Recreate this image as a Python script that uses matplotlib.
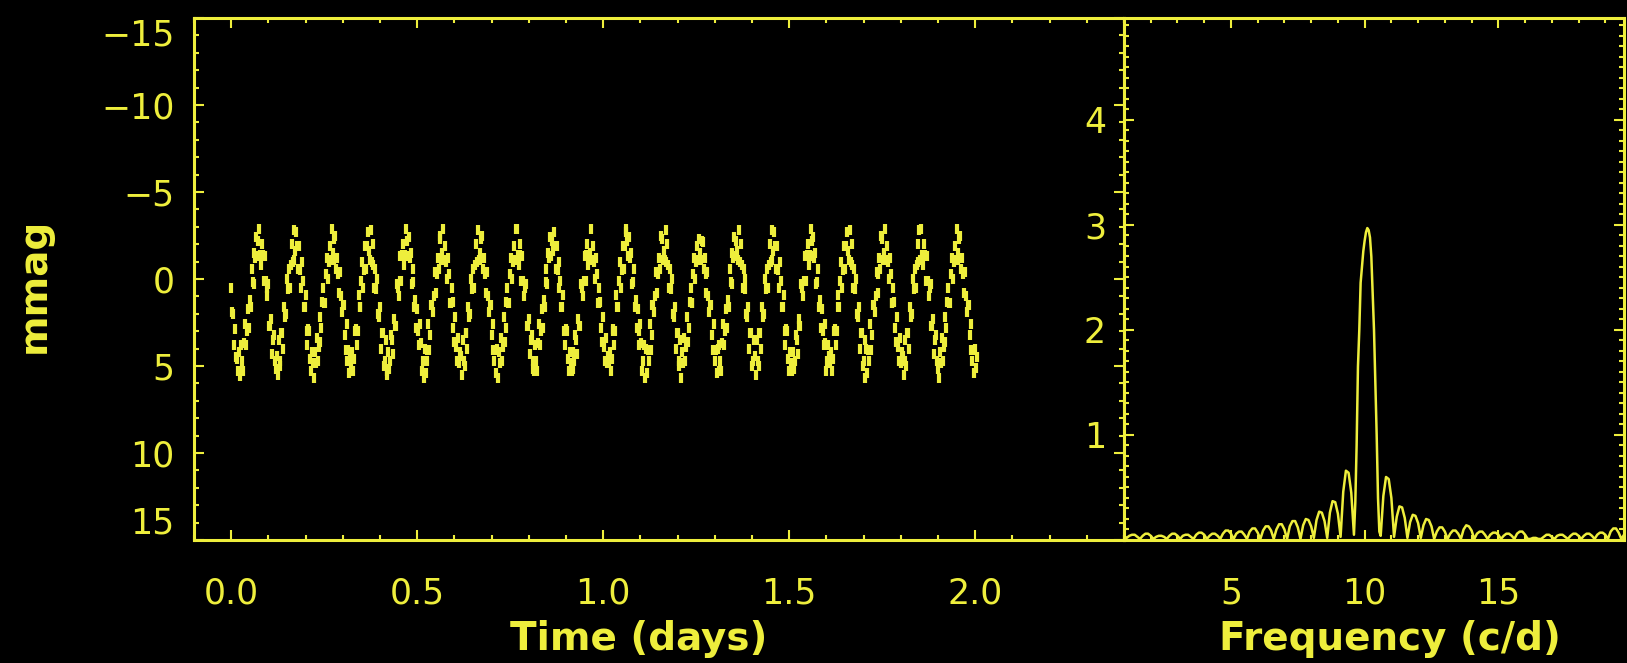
import matplotlib
matplotlib.use("Agg")
import matplotlib.pyplot as plt
from matplotlib.ticker import MultipleLocator

YELLOW = "#eeee3c"

# Light curve (time in days, brightness in mmag)
time_days = [
    0.0000, 0.0025, 0.0050, 0.0075, 0.0100, 0.0125, 0.0150, 0.0175, 0.0200, 0.0225,
    0.0250, 0.0275, 0.0300, 0.0325, 0.0350, 0.0375, 0.0400, 0.0425, 0.0450, 0.0475,
    0.0500, 0.0525, 0.0550, 0.0575, 0.0600, 0.0625, 0.0650, 0.0675, 0.0700, 0.0725,
    0.0750, 0.0775, 0.0800, 0.0825, 0.0850, 0.0875, 0.0900, 0.0925, 0.0950, 0.0975,
    0.1000, 0.1025, 0.1050, 0.1075, 0.1100, 0.1125, 0.1150, 0.1175, 0.1200, 0.1225,
    0.1250, 0.1275, 0.1300, 0.1325, 0.1350, 0.1375, 0.1400, 0.1425, 0.1450, 0.1475,
    0.1500, 0.1525, 0.1550, 0.1575, 0.1600, 0.1625, 0.1650, 0.1675, 0.1700, 0.1725,
    0.1750, 0.1775, 0.1800, 0.1825, 0.1850, 0.1875, 0.1900, 0.1925, 0.1950, 0.1975,
    0.2000, 0.2025, 0.2050, 0.2075, 0.2100, 0.2125, 0.2150, 0.2175, 0.2200, 0.2225,
    0.2250, 0.2275, 0.2300, 0.2325, 0.2350, 0.2375, 0.2400, 0.2425, 0.2450, 0.2475,
    0.2500, 0.2525, 0.2550, 0.2575, 0.2600, 0.2625, 0.2650, 0.2675, 0.2700, 0.2725,
    0.2750, 0.2775, 0.2800, 0.2825, 0.2850, 0.2875, 0.2900, 0.2925, 0.2950, 0.2975,
    0.3000, 0.3025, 0.3050, 0.3075, 0.3100, 0.3125, 0.3150, 0.3175, 0.3200, 0.3225,
    0.3250, 0.3275, 0.3300, 0.3325, 0.3350, 0.3375, 0.3400, 0.3425, 0.3450, 0.3475,
    0.3500, 0.3525, 0.3550, 0.3575, 0.3600, 0.3625, 0.3650, 0.3675, 0.3700, 0.3725,
    0.3750, 0.3775, 0.3800, 0.3825, 0.3850, 0.3875, 0.3900, 0.3925, 0.3950, 0.3975,
    0.4000, 0.4025, 0.4050, 0.4075, 0.4100, 0.4125, 0.4150, 0.4175, 0.4200, 0.4225,
    0.4250, 0.4275, 0.4300, 0.4325, 0.4350, 0.4375, 0.4400, 0.4425, 0.4450, 0.4475,
    0.4500, 0.4525, 0.4550, 0.4575, 0.4600, 0.4625, 0.4650, 0.4675, 0.4700, 0.4725,
    0.4750, 0.4775, 0.4800, 0.4825, 0.4850, 0.4875, 0.4900, 0.4925, 0.4950, 0.4975,
    0.5000, 0.5025, 0.5050, 0.5075, 0.5100, 0.5125, 0.5150, 0.5175, 0.5200, 0.5225,
    0.5250, 0.5275, 0.5300, 0.5325, 0.5350, 0.5375, 0.5400, 0.5425, 0.5450, 0.5475,
    0.5500, 0.5525, 0.5550, 0.5575, 0.5600, 0.5625, 0.5650, 0.5675, 0.5700, 0.5725,
    0.5750, 0.5775, 0.5800, 0.5825, 0.5850, 0.5875, 0.5900, 0.5925, 0.5950, 0.5975,
    0.6000, 0.6025, 0.6050, 0.6075, 0.6100, 0.6125, 0.6150, 0.6175, 0.6200, 0.6225,
    0.6250, 0.6275, 0.6300, 0.6325, 0.6350, 0.6375, 0.6400, 0.6425, 0.6450, 0.6475,
    0.6500, 0.6525, 0.6550, 0.6575, 0.6600, 0.6625, 0.6650, 0.6675, 0.6700, 0.6725,
    0.6750, 0.6775, 0.6800, 0.6825, 0.6850, 0.6875, 0.6900, 0.6925, 0.6950, 0.6975,
    0.7000, 0.7025, 0.7050, 0.7075, 0.7100, 0.7125, 0.7150, 0.7175, 0.7200, 0.7225,
    0.7250, 0.7275, 0.7300, 0.7325, 0.7350, 0.7375, 0.7400, 0.7425, 0.7450, 0.7475,
    0.7500, 0.7525, 0.7550, 0.7575, 0.7600, 0.7625, 0.7650, 0.7675, 0.7700, 0.7725,
    0.7750, 0.7775, 0.7800, 0.7825, 0.7850, 0.7875, 0.7900, 0.7925, 0.7950, 0.7975,
    0.8000, 0.8025, 0.8050, 0.8075, 0.8100, 0.8125, 0.8150, 0.8175, 0.8200, 0.8225,
    0.8250, 0.8275, 0.8300, 0.8325, 0.8350, 0.8375, 0.8400, 0.8425, 0.8450, 0.8475,
    0.8500, 0.8525, 0.8550, 0.8575, 0.8600, 0.8625, 0.8650, 0.8675, 0.8700, 0.8725,
    0.8750, 0.8775, 0.8800, 0.8825, 0.8850, 0.8875, 0.8900, 0.8925, 0.8950, 0.8975,
    0.9000, 0.9025, 0.9050, 0.9075, 0.9100, 0.9125, 0.9150, 0.9175, 0.9200, 0.9225,
    0.9250, 0.9275, 0.9300, 0.9325, 0.9350, 0.9375, 0.9400, 0.9425, 0.9450, 0.9475,
    0.9500, 0.9525, 0.9550, 0.9575, 0.9600, 0.9625, 0.9650, 0.9675, 0.9700, 0.9725,
    0.9750, 0.9775, 0.9800, 0.9825, 0.9850, 0.9875, 0.9900, 0.9925, 0.9950, 0.9975,
    1.0000, 1.0025, 1.0050, 1.0075, 1.0100, 1.0125, 1.0150, 1.0175, 1.0200, 1.0225,
    1.0250, 1.0275, 1.0300, 1.0325, 1.0350, 1.0375, 1.0400, 1.0425, 1.0450, 1.0475,
    1.0500, 1.0525, 1.0550, 1.0575, 1.0600, 1.0625, 1.0650, 1.0675, 1.0700, 1.0725,
    1.0750, 1.0775, 1.0800, 1.0825, 1.0850, 1.0875, 1.0900, 1.0925, 1.0950, 1.0975,
    1.1000, 1.1025, 1.1050, 1.1075, 1.1100, 1.1125, 1.1150, 1.1175, 1.1200, 1.1225,
    1.1250, 1.1275, 1.1300, 1.1325, 1.1350, 1.1375, 1.1400, 1.1425, 1.1450, 1.1475,
    1.1500, 1.1525, 1.1550, 1.1575, 1.1600, 1.1625, 1.1650, 1.1675, 1.1700, 1.1725,
    1.1750, 1.1775, 1.1800, 1.1825, 1.1850, 1.1875, 1.1900, 1.1925, 1.1950, 1.1975,
    1.2000, 1.2025, 1.2050, 1.2075, 1.2100, 1.2125, 1.2150, 1.2175, 1.2200, 1.2225,
    1.2250, 1.2275, 1.2300, 1.2325, 1.2350, 1.2375, 1.2400, 1.2425, 1.2450, 1.2475,
    1.2500, 1.2525, 1.2550, 1.2575, 1.2600, 1.2625, 1.2650, 1.2675, 1.2700, 1.2725,
    1.2750, 1.2775, 1.2800, 1.2825, 1.2850, 1.2875, 1.2900, 1.2925, 1.2950, 1.2975,
    1.3000, 1.3025, 1.3050, 1.3075, 1.3100, 1.3125, 1.3150, 1.3175, 1.3200, 1.3225,
    1.3250, 1.3275, 1.3300, 1.3325, 1.3350, 1.3375, 1.3400, 1.3425, 1.3450, 1.3475,
    1.3500, 1.3525, 1.3550, 1.3575, 1.3600, 1.3625, 1.3650, 1.3675, 1.3700, 1.3725,
    1.3750, 1.3775, 1.3800, 1.3825, 1.3850, 1.3875, 1.3900, 1.3925, 1.3950, 1.3975,
    1.4000, 1.4025, 1.4050, 1.4075, 1.4100, 1.4125, 1.4150, 1.4175, 1.4200, 1.4225,
    1.4250, 1.4275, 1.4300, 1.4325, 1.4350, 1.4375, 1.4400, 1.4425, 1.4450, 1.4475,
    1.4500, 1.4525, 1.4550, 1.4575, 1.4600, 1.4625, 1.4650, 1.4675, 1.4700, 1.4725,
    1.4750, 1.4775, 1.4800, 1.4825, 1.4850, 1.4875, 1.4900, 1.4925, 1.4950, 1.4975,
    1.5000, 1.5025, 1.5050, 1.5075, 1.5100, 1.5125, 1.5150, 1.5175, 1.5200, 1.5225,
    1.5250, 1.5275, 1.5300, 1.5325, 1.5350, 1.5375, 1.5400, 1.5425, 1.5450, 1.5475,
    1.5500, 1.5525, 1.5550, 1.5575, 1.5600, 1.5625, 1.5650, 1.5675, 1.5700, 1.5725,
    1.5750, 1.5775, 1.5800, 1.5825, 1.5850, 1.5875, 1.5900, 1.5925, 1.5950, 1.5975,
    1.6000, 1.6025, 1.6050, 1.6075, 1.6100, 1.6125, 1.6150, 1.6175, 1.6200, 1.6225,
    1.6250, 1.6275, 1.6300, 1.6325, 1.6350, 1.6375, 1.6400, 1.6425, 1.6450, 1.6475,
    1.6500, 1.6525, 1.6550, 1.6575, 1.6600, 1.6625, 1.6650, 1.6675, 1.6700, 1.6725,
    1.6750, 1.6775, 1.6800, 1.6825, 1.6850, 1.6875, 1.6900, 1.6925, 1.6950, 1.6975,
    1.7000, 1.7025, 1.7050, 1.7075, 1.7100, 1.7125, 1.7150, 1.7175, 1.7200, 1.7225,
    1.7250, 1.7275, 1.7300, 1.7325, 1.7350, 1.7375, 1.7400, 1.7425, 1.7450, 1.7475,
    1.7500, 1.7525, 1.7550, 1.7575, 1.7600, 1.7625, 1.7650, 1.7675, 1.7700, 1.7725,
    1.7750, 1.7775, 1.7800, 1.7825, 1.7850, 1.7875, 1.7900, 1.7925, 1.7950, 1.7975,
    1.8000, 1.8025, 1.8050, 1.8075, 1.8100, 1.8125, 1.8150, 1.8175, 1.8200, 1.8225,
    1.8250, 1.8275, 1.8300, 1.8325, 1.8350, 1.8375, 1.8400, 1.8425, 1.8450, 1.8475,
    1.8500, 1.8525, 1.8550, 1.8575, 1.8600, 1.8625, 1.8650, 1.8675, 1.8700, 1.8725,
    1.8750, 1.8775, 1.8800, 1.8825, 1.8850, 1.8875, 1.8900, 1.8925, 1.8950, 1.8975,
    1.9000, 1.9025, 1.9050, 1.9075, 1.9100, 1.9125, 1.9150, 1.9175, 1.9200, 1.9225,
    1.9250, 1.9275, 1.9300, 1.9325, 1.9350, 1.9375, 1.9400, 1.9425, 1.9450, 1.9475,
    1.9500, 1.9525, 1.9550, 1.9575, 1.9600, 1.9625, 1.9650, 1.9675, 1.9700, 1.9725,
    1.9750, 1.9775, 1.9800, 1.9825, 1.9850, 1.9875, 1.9900, 1.9925, 1.9950, 1.9975,
    2.0000, 2.0025, 2.0050,
]

mmag = [
    0.5, 1.9, 2.0, 3.8, 2.9, 4.5, 4.6, 5.3, 4.2, 5.6,
    5.3, 3.8, 4.7, 5.3, 3.7, 2.6, 3.8, 3.0, 1.7, 2.8,
    1.2, 1.6, -0.6, 0.2, 0.3, -1.5, -1.2, -2.4, -1.3, -2.2,
    -2.9, -1.4, -0.8, -2.0, -1.4, 0.1, -1.3, 0.1, 1.0, 0.5,
    0.3, 2.7, 2.7, 2.3, 4.3, 3.5, 3.2, 4.7, 5.2,
    4.4, 5.5, 3.5, 4.7, 5.0, 3.1, 3.1, 4.0, 1.6, 2.2,
    2.0, 0.0, 0.6, -0.6, 0.5, -0.8, -2.0, -1.0, -2.8, -1.1,
    -1.6, -2.7, -1.9, -0.6, -1.9, -0.5, 0.5, -1.0, 0.1, 1.6,
    1.6, 0.9, 3.0, 3.8, 2.9, 3.0, 4.6, 5.3, 4.2, 4.8,
    5.7, 4.2, 4.8, 3.4, 4.7, 3.9, 2.2, 3.6, 2.8, 1.3,
    0.5, 1.4, 1.4, -0.3, -1.2, 0.0, -1.0, -1.9, -1.1, -2.9,
    -1.5, -1.1, -2.3, -2.5, -0.6, -1.2, -0.3, 0.8, -0.4, 1.0,
    1.9, 1.5, 1.5, 3.2, 4.1, 2.6, 4.7, 4.1, 5.4,
    4.4, 4.8, 4.2, 5.3, 4.6, 3.0, 2.9, 3.8, 3.0, 0.9,
    1.6, 1.6, 0.1, -1.0, 0.5, -0.5, -1.9, -0.6, -1.9, -2.7,
    -1.6, -1.1, -2.8, -1.0, -2.0, -0.8, 0.5, -0.6, 0.6, 0.0,
    2.0, 2.2, 1.6, 4.0, 3.1, 3.1, 5.0, 4.7, 3.5, 5.5,
    5.3, 4.2, 5.2, 4.7, 3.2, 3.5, 4.3, 2.3, 2.7, 2.7,
    0.3, 0.5, 1.0, 0.1, -1.3, 0.1, -1.4, -2.0, -0.8, -1.4,
    -2.9, -2.2, -1.3, -2.4, -1.2, -1.5, 0.3, 0.2, -0.6, 1.6,
    1.2, 2.8, 1.7, 3.0, 3.8, 2.6, 3.7, 5.3, 4.7,
    5.7, 4.0, 5.4, 4.1, 4.7, 2.6, 4.1, 3.2, 1.5, 1.5,
    1.9, 1.0, -0.4, 0.8, -0.3, -1.2, -0.6, -2.5, -2.3, -1.1,
    -1.5, -2.9, -1.1, -1.9, -1.0, 0.0, -1.2, -0.3, 1.4, 1.4,
    0.5, 1.3, 2.8, 3.6, 2.2, 3.9, 4.7, 3.4, 4.8, 4.2,
    4.4, 5.5, 3.5, 4.7, 5.0, 3.1, 3.1, 4.0, 1.6, 2.2,
    2.0, 0.0, 0.6, -0.6, 0.5, -0.8, -2.0, -1.0, -2.8, -1.1,
    -1.5, -1.1, -2.3, -2.5, -0.6, -1.2, -0.3, 0.8, -0.4, 1.0,
    1.9, 1.5, 1.5, 3.2, 4.1, 2.6, 4.7, 4.1, 5.4, 4.0,
    5.7, 4.2, 4.8, 3.4, 4.7, 3.9, 2.2, 3.6, 2.8, 1.3,
    0.5, 1.4, 1.4, -0.3, -1.2, 0.0, -1.0, -1.9, -1.1, -2.9,
    -2.9, -1.4, -0.8, -2.0, -1.4, 0.1, -1.3, 0.1, 1.0, 0.5,
    0.3, 2.7, 2.7, 2.3, 4.3, 3.5, 3.2, 4.7, 5.2,
    5.3, 3.8, 4.7, 5.3, 3.7, 2.6, 3.8, 3.0, 1.7, 2.8,
    1.2, 1.6, -0.6, 0.2, 0.3, -1.5, -1.2, -2.4, -1.3, -2.2,
    -1.6, -2.7, -1.9, -0.6, -1.9, -0.5, 0.5, -1.0, 0.1, 1.6,
    1.6, 0.9, 3.0, 3.8, 2.9, 3.0, 4.6, 5.3, 4.2, 4.8,
    5.3, 4.2, 5.2, 4.7, 3.2, 3.5, 4.3, 2.3, 2.7, 2.7,
    0.3, 0.5, 1.0, 0.1, -1.3, 0.1, -1.4, -2.0, -0.8, -1.4,
    -1.5, -2.9, -1.1, -1.9, -1.0, 0.0, -1.2, -0.3, 1.4, 1.4,
    0.5, 1.3, 2.8, 3.6, 2.2, 3.9, 4.7, 3.4, 4.8,
    4.4, 4.8, 4.2, 5.3, 4.6, 3.0, 2.9, 3.8, 3.0, 0.9,
    1.6, 1.6, 0.1, -1.0, 0.5, -0.5, -1.9, -0.6, -1.9, -2.7,
    -2.9, -2.2, -1.3, -2.4, -1.2, -1.5, 0.3, 0.2, -0.6, 1.6,
    1.2, 2.8, 1.7, 3.0, 3.8, 2.6, 3.7, 5.3, 4.7, 3.8,
    5.7, 4.0, 5.4, 4.1, 4.7, 2.6, 4.1, 3.2, 1.5, 1.5,
    1.9, 1.0, -0.4, 0.8, -0.3, -1.2, -0.6, -2.5, -2.3, -1.1,
    -1.6, -1.1, -2.8, -1.0, -2.0, -0.8, 0.5, -0.6, 0.6, 0.0,
    2.0, 2.2, 1.6, 4.0, 3.1, 3.1, 5.0, 4.7, 3.5,
    5.7, 4.2, 4.8, 3.4, 4.7, 3.9, 2.2, 3.6, 2.8, 1.3,
    0.5, 1.4, 1.4, -0.3, -1.2, 0.0, -1.0, -1.9, -1.1, -2.3,
    -1.5, -1.1, -2.2, -2.1, -0.6, -1.2, -0.3, 0.8, -0.4, 1.0,
    1.9, 1.5, 1.5, 3.2, 4.1, 2.6, 4.7, 4.1, 5.4, 4.0,
    5.3, 3.8, 4.7, 5.3, 3.7, 2.6, 3.8, 3.0, 1.7, 2.8,
    1.2, 1.6, -0.6, 0.2, 0.3, -1.5, -1.2, -2.4, -1.3, -2.2,
    -1.6, -1.1, -2.8, -1.0, -2.0, -0.8, 0.5, -0.6, 0.6, 0.0,
    2.0, 2.2, 1.6, 4.0, 3.1, 3.1, 5.0, 4.7, 3.5,
    4.4, 5.5, 3.5, 4.7, 5.0, 3.1, 3.1, 4.0, 1.6, 2.2,
    2.0, 0.0, 0.6, -0.6, 0.5, -0.8, -2.0, -1.0, -2.8, -1.1,
    -1.6, -2.7, -1.9, -0.6, -1.9, -0.5, 0.5, -1.0, 0.1, 1.6,
    1.6, 0.9, 3.0, 3.8, 2.9, 3.0, 4.6, 5.3, 4.2, 4.8,
    5.3, 4.2, 5.2, 4.7, 3.2, 3.5, 4.3, 2.3, 2.7, 2.7,
    0.3, 0.5, 1.0, 0.1, -1.3, 0.1, -1.4, -2.0, -0.8, -1.4,
    -2.9, -2.2, -1.3, -2.4, -1.2, -1.5, 0.3, 0.2, -0.6, 1.6,
    1.2, 2.8, 1.7, 3.0, 3.8, 2.6, 3.7, 5.3, 4.7, 3.8,
    4.4, 4.8, 4.2, 5.3, 4.6, 3.0, 2.9, 3.8, 3.0, 0.9,
    1.6, 1.6, 0.1, -1.0, 0.5, -0.5, -1.9, -0.6, -1.9, -2.7,
    -1.6, -1.1, -2.8, -1.0, -2.0, -0.8, 0.5, -0.6, 0.6, 0.0,
    2.0, 2.2, 1.6, 4.0, 3.1, 3.1, 5.0, 4.7, 3.5,
    5.7, 4.0, 5.4, 4.1, 4.7, 2.6, 4.1, 3.2, 1.5, 1.5,
    1.9, 1.0, -0.4, 0.8, -0.3, -1.2, -0.6, -2.5, -2.3, -1.1,
    -1.5, -2.9, -1.1, -1.9, -1.0, 0.0, -1.2, -0.3, 1.4, 1.4,
    0.5, 1.3, 2.8, 3.6, 2.2, 3.9, 4.7, 3.4, 4.8, 4.2,
    4.4, 5.5, 3.5, 4.7, 5.0, 3.1, 3.1, 4.0, 1.6, 2.2,
    2.0, 0.0, 0.6, -0.6, 0.5, -0.8, -2.0, -1.0, -2.8, -1.1,
    -2.9, -1.4, -0.8, -2.0, -1.4, 0.1, -1.3, 0.1, 1.0, 0.5,
    0.3, 2.7, 2.7, 2.3, 4.3, 3.5, 3.2, 4.7, 5.2,
    5.7, 4.2, 4.8, 3.4, 4.7, 3.9, 2.2, 3.6, 2.8, 1.3,
    0.5, 1.4, 1.4, -0.3, -1.2, 0.0, -1.0, -1.9, -1.1, -2.9,
    -1.5, -1.1, -2.3, -2.5, -0.6, -1.2, -0.3, 0.8, -0.4, 1.0,
    1.9, 1.5, 1.5, 3.2, 4.1, 2.6, 4.7, 4.1, 5.4, 4.0,
    5.1, 4.5,
]

# Amplitude spectrum (frequency in c/d, amplitude in mmag)
freq_cd = [
    1.0, 1.1, 1.2, 1.3, 1.4, 1.5, 1.6, 1.7, 1.8, 1.9,
    2.0, 2.1, 2.2, 2.3, 2.4, 2.5, 2.6, 2.7, 2.8, 2.9,
    3.0, 3.1, 3.2, 3.3, 3.4, 3.5, 3.6, 3.7, 3.8, 3.9,
    4.0, 4.1, 4.2, 4.3, 4.4, 4.5, 4.6, 4.7, 4.8, 4.9,
    5.0, 5.1, 5.2, 5.3, 5.4, 5.5, 5.6, 5.7, 5.8, 5.9,
    6.0, 6.1, 6.2, 6.3, 6.4, 6.5, 6.6, 6.7, 6.8, 6.9,
    7.0, 7.1, 7.2, 7.3, 7.4, 7.5, 7.6, 7.7, 7.8, 7.9,
    8.0, 8.1, 8.2, 8.3, 8.4, 8.5, 8.6, 8.7, 8.8, 8.9,
    9.0, 9.1, 9.2, 9.3, 9.4, 9.5, 9.6,
    9.65, 9.70, 9.75, 9.80, 9.85, 9.90, 9.95, 10.00, 10.05, 10.10,
    10.15, 10.20, 10.25, 10.30, 10.35, 10.40, 10.45, 10.50, 10.55,
    10.6, 10.7, 10.8, 10.9,
    11.0, 11.1, 11.2, 11.3, 11.4, 11.5, 11.6, 11.7, 11.8, 11.9,
    12.0, 12.1, 12.2, 12.3, 12.4, 12.5, 12.6, 12.7, 12.8, 12.9,
    13.0, 13.1, 13.2, 13.3, 13.4, 13.5, 13.6, 13.7, 13.8, 13.9,
    14.0, 14.1, 14.2, 14.3, 14.4, 14.5, 14.6, 14.7, 14.8, 14.9,
    15.0, 15.1, 15.2, 15.3, 15.4, 15.5, 15.6, 15.7, 15.8, 15.9,
    16.0, 16.1, 16.2, 16.3, 16.4, 16.5, 16.6, 16.7, 16.8, 16.9,
    17.0, 17.1, 17.2, 17.3, 17.4, 17.5, 17.6, 17.7, 17.8, 17.9,
    18.0, 18.1, 18.2, 18.3, 18.4, 18.5, 18.6, 18.7, 18.8, 18.9,
    19.0, 19.1, 19.2, 19.3, 19.4, 19.5, 19.6, 19.7,
]

amplitude = [
    0.04, 0.02, 0.04, 0.05, 0.05, 0.03, 0.01, 0.04, 0.06, 0.06,
    0.04, 0.01, 0.03, 0.04, 0.04, 0.03, 0.01, 0.04, 0.06, 0.06,
    0.04, 0.01, 0.04, 0.05, 0.05, 0.03, 0.01, 0.05, 0.07, 0.07,
    0.05, 0.01, 0.04, 0.06, 0.06, 0.04, 0.01, 0.06, 0.09, 0.09,
    0.06, 0.01, 0.06, 0.08, 0.08, 0.05, 0.01, 0.08, 0.11, 0.11,
    0.07, 0.01, 0.09, 0.13, 0.13, 0.09, 0.01, 0.10, 0.15, 0.15,
    0.10, 0.01, 0.13, 0.18, 0.18, 0.12, 0.01, 0.14, 0.20, 0.19,
    0.13, 0.02, 0.19, 0.27, 0.26, 0.18, 0.02, 0.26, 0.37, 0.36,
    0.25, 0.03, 0.46, 0.66, 0.64, 0.45, 0.05,
    0.35, 0.90, 1.65, 2.00, 2.45, 2.60, 2.75, 2.85, 2.93, 2.97,
    2.95, 2.88, 2.70, 2.35, 2.00, 1.50, 1.00, 0.40, 0.08,
    0.04, 0.42, 0.60, 0.58,
    0.40, 0.03, 0.22, 0.32, 0.31, 0.21, 0.02, 0.17, 0.24, 0.23,
    0.16, 0.02, 0.14, 0.20, 0.19, 0.13, 0.01, 0.08, 0.12, 0.12,
    0.08, 0.01, 0.06, 0.09, 0.09, 0.06, 0.01, 0.10, 0.14, 0.13,
    0.09, 0.01, 0.06, 0.08, 0.08, 0.05, 0.01, 0.05, 0.07, 0.07,
    0.05, 0.01, 0.04, 0.06, 0.06, 0.04, 0.01, 0.06, 0.08, 0.08,
    0.05, 0.01, 0.01, 0.02, 0.02, 0.01, 0.01, 0.03, 0.05, 0.05,
    0.03, 0.01, 0.04, 0.05, 0.05, 0.03, 0.01, 0.04, 0.06, 0.06,
    0.04, 0.01, 0.04, 0.06, 0.06, 0.04, 0.01, 0.05, 0.07, 0.07,
    0.05, 0.01, 0.08, 0.11, 0.11, 0.07, 0.01, 0.05,
]

time_ticks = [0.0, 0.5, 1.0, 1.5, 2.0]
time_tick_labels = ["0.0", "0.5", "1.0", "1.5", "2.0"]
mag_ticks = [-15, -10, -5, 0, 5, 10, 15]
mag_tick_labels = ["\u221215", "\u221210", "\u22125", "0", "5", "10", "15"]
freq_ticks = [5, 10, 15]
freq_tick_labels = ["5", "10", "15"]
amp_ticks = [1, 2, 3, 4]
amp_tick_labels = ["1", "2", "3", "4"]

plt.rcParams["font.family"] = ["DejaVu Sans"]

W, H = 1627, 663
fig = plt.figure(figsize=(W / 100, H / 100), dpi=100, facecolor="black")

# axes boxes in pixels: left panel 194..1124, right panel 1124..1624, y 18..540
ax1 = fig.add_axes([194 / W, 1 - 540 / H, (1124 - 194) / W, (540 - 18) / H])
ax2 = fig.add_axes([1124 / W, 1 - 540 / H, (1624 - 1124) / W, (540 - 18) / H])

for ax in (ax1, ax2):
    ax.set_facecolor("black")
    for sp in ax.spines.values():
        sp.set_color(YELLOW)
        sp.set_linewidth(2.2)
    ax.tick_params(which="both", direction="in", top=True, right=True,
                   colors=YELLOW, width=1.5, labelsize=25)
    ax.tick_params(which="major", length=7.5)
    ax.tick_params(which="minor", length=3.8)

# light curve: short vertical dashes give the speckled band of the original
ax1.plot(time_days, mmag, linestyle="none", marker="|", markersize=6.5,
         markeredgewidth=3.0, color=YELLOW)
ax1.set_xlim(-0.1, 2.4)
ax1.set_ylim(15, -15)
ax1.set_xticks(time_ticks)
ax1.set_xticklabels(time_tick_labels)
ax1.xaxis.set_minor_locator(MultipleLocator(0.1))
ax1.set_yticks(mag_ticks)
ax1.set_yticklabels(mag_tick_labels)
ax1.yaxis.set_minor_locator(MultipleLocator(1))
ax1.tick_params(axis="x", pad=26)
ax1.tick_params(axis="y", pad=14)
yt = ax1.yaxis.get_major_ticks()
yt[0].label1.set_verticalalignment("top")
yt[-1].label1.set_verticalalignment("bottom")

# amplitude spectrum
ax2.plot(freq_cd, amplitude, color=YELLOW, linewidth=1.8)
ax2.set_xlim(1, 19.7)
ax2.set_ylim(0, 4.97)
ax2.set_xticks(freq_ticks)
ax2.set_xticklabels(freq_tick_labels)
ax2.xaxis.set_minor_locator(MultipleLocator(1))
ax2.set_yticks(amp_ticks)
ax2.set_yticklabels(amp_tick_labels)
ax2.yaxis.set_minor_locator(MultipleLocator(0.1))
ax2.tick_params(axis="x", pad=26)
ax2.tick_params(axis="y", pad=13)

label_kw = dict(color=YELLOW, fontsize=28, fontweight="bold")
fig.text(639 / W, 13 / H, "Time (days)", ha="center", va="baseline", **label_kw)
fig.text(1390 / W, 13 / H, "Frequency (c/d)", ha="center", va="baseline", **label_kw)
fig.text(34 / W, 1 - 285 / H, "mmag", rotation=90, ha="center", va="center", **label_kw)

fig.savefig("out.png", dpi=100, facecolor="black")
plt.close(fig)
